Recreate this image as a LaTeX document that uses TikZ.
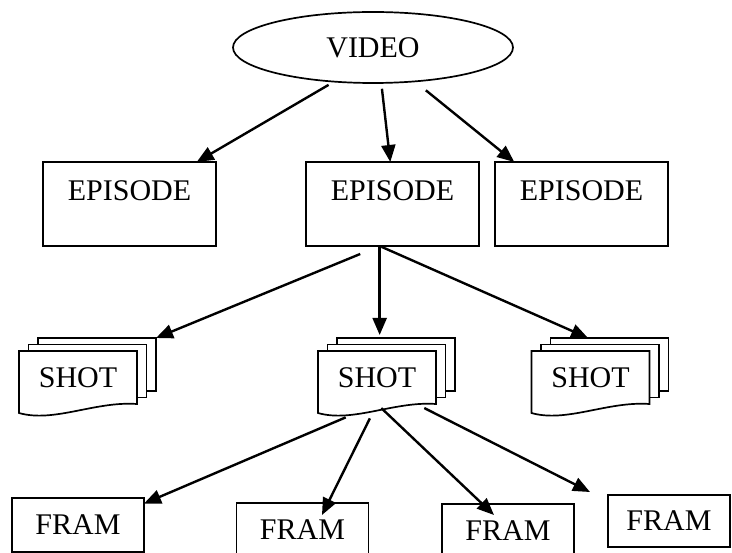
\documentclass[tikz,border=0pt]{standalone}
\usepackage{fontspec}
\setmainfont{Liberation Serif}
\usetikzlibrary{arrows.meta,shapes.geometric,backgrounds}

\begin{document}
\begin{tikzpicture}[x=1pt,y=-1pt,font=\fontsize{30}{36}\selectfont,>={Triangle[length=17pt,width=14pt]},
  epbox/.style={draw,line width=1.7pt,inner sep=0pt,outer sep=0pt,minimum width=173pt,text height=38.5pt,text depth=45.5pt},
  framebox/.style={draw,line width=1.7pt,inner sep=0pt,outer sep=0pt,minimum width=132pt,minimum height=54pt},
  shotfront/.style={inner sep=0pt,outer sep=0pt,minimum width=118pt,minimum height=53pt},
  shotpage/.style={draw,fill=white,line width=1.7pt},
  conn/.style={->,line width=2.4pt}]
\useasboundingbox (0,0) rectangle (732,553);
\node[draw,ellipse,line width=1.7pt,inner sep=0pt,minimum width=280pt,minimum height=71pt] (video) at (373,47.5) {VIDEO};
\node[epbox] (ep1) at (129.5,204) {EPISODE};
\node[epbox] (ep2) at (392.5,204) {EPISODE};
\node[epbox] (ep3) at (581.5,204) {EPISODE};
\node[shotfront] (s1) at (78,377.5) {SHOT};
\node[shotfront] (s2) at (377,377.5) {SHOT};
\node[shotfront] (s3) at (590.5,377.5) {SHOT};
\node[framebox] (f1) at (78,525) {FRAM};
\node[framebox] (f2) at (302.5,530) {FRAM};
\node[framebox] (f3) at (508,531) {FRAM};
\node[framebox,minimum width=122pt,minimum height=52pt] (f4) at (669,521) {FRAM};
% stacked pages behind each shot
\begin{scope}[on background layer]
\foreach \s in {s1,s2,s3}{
  \node[shotfront,shotpage] (\s-3) at ([xshift=19pt,yshift=13pt]\s.center) {};
  \node[shotfront,shotpage] (\s-2) at ([xshift=9.5pt,yshift=6.5pt]\s.center) {};
  \draw[shotpage] (\s.north west) -- (\s.north east) -- (\s.south east)
    .. controls +(-42,-3) and +(35,10) .. ([yshift=-9pt]\s.south west) -- cycle;
}
\end{scope}
\draw[conn,shorten <=5pt] (video.221) -- (ep1.32);
\draw[conn,shorten <=5pt] (video.283) -- (ep2.93);
\draw[conn,shorten <=13pt] (video.321) -- (ep3.148);
\draw[conn,shorten <=21pt] (ep2.253) -- (s1-3.north east);
\draw[conn,shorten >=3pt] (ep2.253) -- (ep2.253 |- s2-3.north);
\draw[conn,shorten <=2pt] (ep2.253) -- (s3-3.129);
\draw[conn,shorten <=34pt] (s2.south) -- (f1.18);
\draw[conn,shorten <=16pt] (s2.south) -- ([xshift=19.5pt,yshift=-12pt]f2.north);
\draw[conn,shorten <=6pt] (s2.south) -- ([xshift=-14pt,yshift=-11pt]f3.north);
\draw[conn,shorten <=9pt] (s2.-34) -- ([xshift=-18pt,yshift=3pt]f4.north west);
\end{tikzpicture}
\end{document}
